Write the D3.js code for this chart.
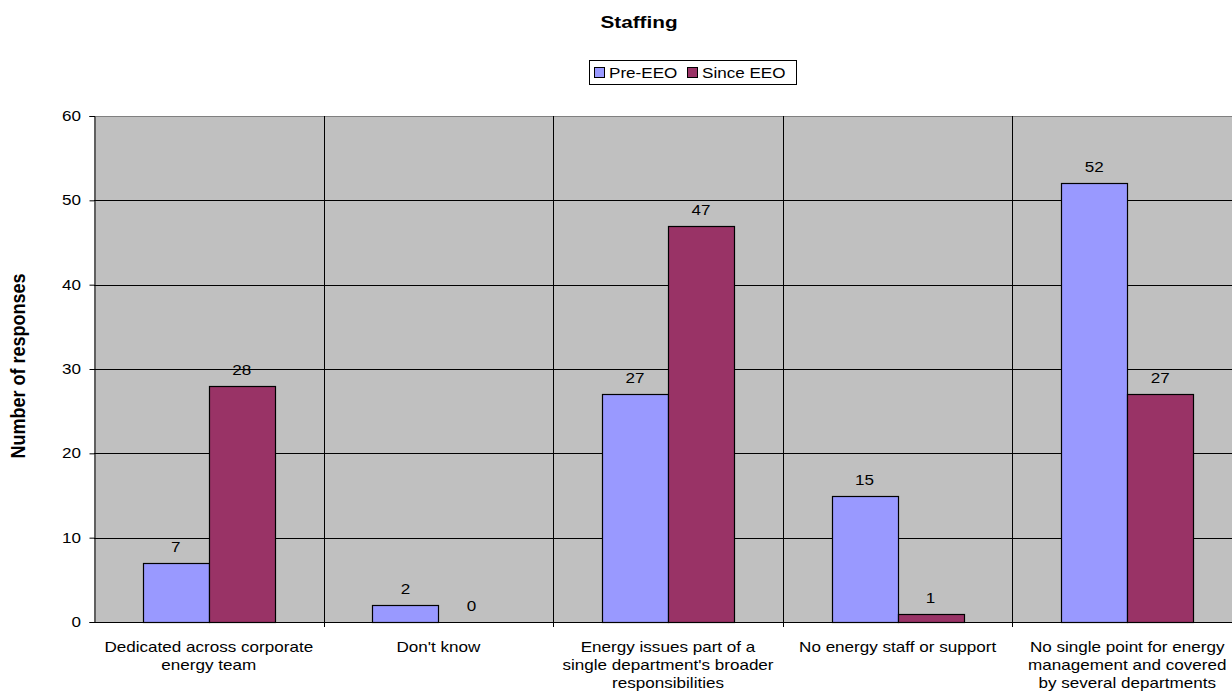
<!DOCTYPE html>
<html><head><meta charset="utf-8">
<script src="https://cdn.jsdelivr.net/npm/d3@7"></script>
<style>body{margin:0;overflow:hidden;background:#fff}svg{display:block}text{font-family:"Liberation Sans",Arial,sans-serif}</style>
</head><body>
<script>
const categories = [
  ["Dedicated across corporate", "energy team"],
  ["Don't know"],
  ["Energy issues part of a", "single department's broader", "responsibilities"],
  ["No energy staff or support"],
  ["No single point for energy", "management and covered", "by several departments"]
];
const categoryKeys = ["c1","c2","c3","c4","c5"];
const seriesNames = ["Pre-EEO", "Since EEO"];
const preEEO = [7, 2, 27, 15, 52];
const sinceEEO = [28, 0, 47, 1, 27];
const yTicks = [0, 10, 20, 30, 40, 50, 60];
const colors = ["#9999FF", "#993366"];

(function () {
const W = 1232, H = 692;
const pL = 94, pT = 116, pR = 1242, pB = 622;
const SX = 1.22;
const svg = d3.select("body").append("svg").attr("width", W).attr("height", H);

function stext(parent, x, y, str, size, anchor, bold) {
  return parent.append("text")
    .attr("transform", `translate(${x},${y}) scale(${SX},1)`)
    .attr("text-anchor", anchor || "start")
    .attr("font-size", size)
    .attr("font-weight", bold ? "bold" : null)
    .attr("fill", "#000")
    .text(str);
}

const x0 = d3.scaleBand().domain(categoryKeys).range([pL, pR]).padding(0);
const x1 = d3.scaleBand().domain(seriesNames).range([0, x0.bandwidth()]).paddingInner(0).paddingOuter(0.739);
const y = d3.scaleLinear().domain([0, 60]).range([pB, pT]);

svg.append("rect").attr("x", pL).attr("y", pT).attr("width", pR - pL).attr("height", pB - pT).attr("fill", "#C0C0C0");
svg.append("line").attr("x1", pL).attr("x2", pR).attr("y1", pT + 0.5).attr("y2", pT + 0.5).attr("stroke", "#808080");

svg.append("g").selectAll("line").data(yTicks.filter(d => d > 0 && d < 60)).join("line")
  .attr("x1", pL).attr("x2", pR)
  .attr("y1", d => Math.round(y(d)) + 0.5).attr("y2", d => Math.round(y(d)) + 0.5)
  .attr("stroke", "#000");

const bounds = categoryKeys.map(k => x0(k)).slice(1);
svg.append("g").selectAll("line").data(bounds).join("line")
  .attr("x1", d => Math.round(d) + 0.5).attr("x2", d => Math.round(d) + 0.5)
  .attr("y1", pT).attr("y2", pB + 5).attr("stroke", "#000");

const data = categoryKeys.map((k, i) => ({key: k, vals: [preEEO[i], sinceEEO[i]]}));
const g = svg.append("g");
data.forEach(d => {
  d.vals.forEach((v, j) => {
    const bx = x0(d.key) + x1(seriesNames[j]);
    if (v > 0) {
      g.append("rect").attr("x", Math.round(bx) + 0.5).attr("y", Math.round(y(v)) + 0.5)
        .attr("width", Math.round(x1.bandwidth())).attr("height", Math.round(y(0)) - Math.round(y(v)))
        .attr("fill", colors[j]).attr("stroke", "#000").attr("stroke-width", 1.2);
    }
    stext(g, bx + x1.bandwidth() / 2, y(v) - 11, v, 14, "middle");
  });
});

const yAxis = d3.axisLeft(y).tickValues(yTicks).tickSize(5).tickPadding(6);
const ya = svg.append("g").attr("transform", `translate(${pL + 0.5},0)`).call(yAxis);
ya.select(".domain").attr("stroke", "#000");
ya.selectAll(".tick line").attr("stroke", "#000");
ya.selectAll(".tick text").attr("font-size", 14).attr("font-family", "Liberation Sans, Arial, sans-serif")
  .attr("fill", "#000").attr("transform", `scale(${SX},1)`);

svg.append("line").attr("x1", pL).attr("x2", pR).attr("y1", pB + 0.5).attr("y2", pB + 0.5).attr("stroke", "#000");

const xl = svg.append("g");
categories.forEach((lines, i) => {
  const cx = x0(categoryKeys[i]) + x0.bandwidth() / 2;
  const t = stext(xl, cx, 652, null, 14, "middle");
  lines.forEach((ln, k) => t.append("tspan").attr("x", 0).attr("dy", k === 0 ? 0 : 18).text(ln));
});

stext(svg, 639, 28, "Staffing", 17, "middle", true);

svg.append("text").attr("transform", `translate(25,366) rotate(-90) scale(1,1.08)`).attr("text-anchor", "middle")
  .attr("font-size", 18).attr("font-weight", "bold").attr("fill", "#000").text("Number of responses");

const lg = svg.append("g");
lg.append("rect").attr("x", 589.5).attr("y", 60.5).attr("width", 207).attr("height", 24).attr("fill", "#fff").attr("stroke", "#000");
const lx = [594, 687];
seriesNames.forEach((s, i) => {
  lg.append("rect").attr("x", lx[i] + 0.5).attr("y", 67.5).attr("width", 10).attr("height", 10).attr("fill", colors[i]).attr("stroke", "#000");
  stext(lg, lx[i] + 15, 77.5, s, 14, "start");
});
})();
</script>
</body></html>
